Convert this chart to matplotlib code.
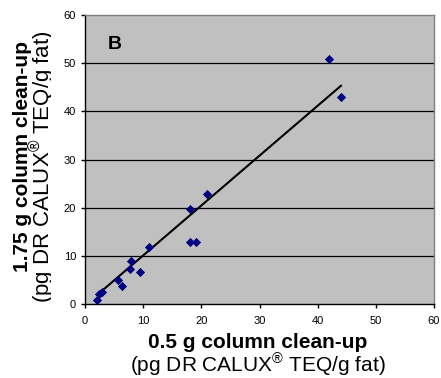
import numpy as np
import matplotlib
matplotlib.use("Agg")
import matplotlib.pyplot as plt
from matplotlib.patches import Rectangle

plt.rcParams['font.family'] = ['Liberation Sans', 'DejaVu Sans']
plt.rcParams['mathtext.fontset'] = 'custom'
plt.rcParams['mathtext.rm'] = 'Liberation Sans'
plt.rcParams['mathtext.it'] = 'Liberation Sans'

x_vals = [42.0, 44.0, 21.0, 18.0, 18.0, 19.0, 11.0, 7.9, 7.7, 9.4, 5.7, 6.3, 3.0, 2.4, 2.1]
y_vals = [50.8, 42.9, 22.8, 19.8, 12.8, 12.8, 11.8, 8.9, 7.2, 6.6, 4.9, 3.7, 2.4, 2.1, 0.9]
x_ticks = [0, 10, 20, 30, 40, 50, 60]
y_ticks = [0, 10, 20, 30, 40, 50, 60]
trend_slope = 1.036
trend_intercept = -0.28

W, H = 441, 378
fig = plt.figure(figsize=(W/100, H/100), dpi=100)
fig.patch.set_facecolor('white')
ax = fig.add_axes([85/W, 1-304/H, (434-85)/W, (304-15)/H])
ax.set_facecolor('#C0C0C0')
ax.set_xlim(0, 60)
ax.set_ylim(0, 60)
ax.set_xticks(x_ticks)
ax.set_yticks(y_ticks)
ax.tick_params(direction='out', length=3, width=1, labelsize=8, color='black')
ax.tick_params(axis='y', pad=3.5)
ax.tick_params(axis='x', pad=5.5)
for y in y_ticks[1:-1]:
    ax.axhline(y, color='black', lw=0.9, zorder=1)
for s in ['top', 'right']:
    ax.spines[s].set_color('#808080')
    ax.spines[s].set_linewidth(1)
for s in ['left', 'bottom']:
    ax.spines[s].set_color('black')
    ax.spines[s].set_linewidth(1)

xa = np.array(x_vals); ya = np.array(y_vals)
xl = np.array([xa.min(), xa.max()])
ax.plot(xl, trend_slope*xl + trend_intercept, color='black', lw=1.5, zorder=2)
ax.scatter(xa, ya, marker='D', s=22, color='#000080', zorder=3, linewidths=0)

ax.text((108-85)/349, (304-49)/289, 'B', transform=ax.transAxes, fontsize=14,
        fontweight='bold', ha='left', va='baseline')

fig.text(258/W, 1-348/H, '0.5 g column clean-up', fontsize=15, fontweight='bold',
         ha='center', va='baseline')
fig.text(258/W, 1-373/H, '(pg DR CALUX$^{®}$ TEQ/g fat)', fontsize=15,
         ha='center', va='baseline')
fig.text(28/W, 1-157/H, '1.75 g column clean-up', fontsize=15, fontweight='bold',
         ha='center', va='baseline', rotation=90, rotation_mode='anchor')
fig.text(50/W, 1-167/H, '(pg DR CALUX$^{®}$ TEQ/g fat)', fontsize=16,
         ha='center', va='baseline', rotation=90, rotation_mode='anchor', zorder=3)
# the reference cuts the descenders of this rotated label at its baseline
fig.add_artist(Rectangle((51/W, 1-312/H), 6/W, 290/H, transform=fig.transFigure,
                         facecolor='white', edgecolor='none', zorder=4))

fig.savefig('out.png', dpi=100)
